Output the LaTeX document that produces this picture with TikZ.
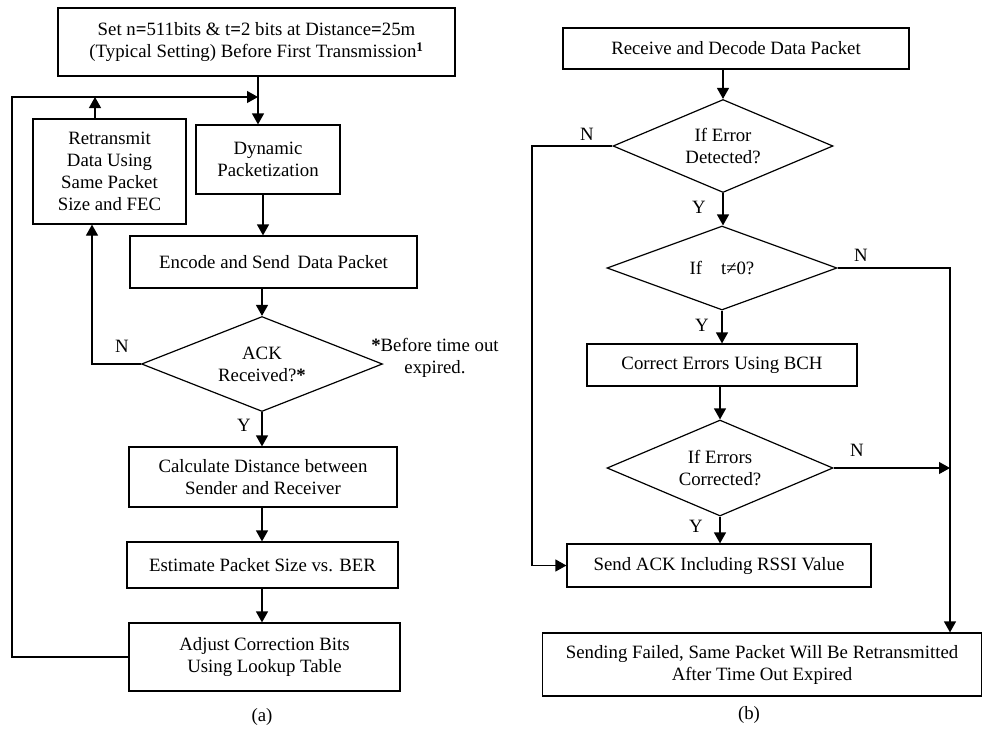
\documentclass[tikz,border=0pt]{standalone}
\usepackage{fontspec}
\setmainfont{Liberation Serif}
\usetikzlibrary{shapes.geometric,arrows.meta}
\begin{document}
\begin{tikzpicture}[x=1pt,y=-1pt,
  font=\fontsize{18.8}{22}\selectfont,
  proc/.style={draw,line width=1.2pt,inner sep=0pt,align=center},
  dec/.style={draw,diamond,aspect=2.4,line width=1.2pt,inner sep=0pt,align=center},
  arr/.style={-{Triangle[length=11pt,width=12pt]},line width=1.2pt},
  lbl/.style={inner sep=0pt,align=center}]
\useasboundingbox (0,0) rectangle (983,729);
% ---------- (a) ----------
\node[proc,minimum width=397pt,minimum height=68pt] (b1) at (256.5,42)
  {Set n\textbf{=}511bits \& t\textbf{=}2 bits at Distance\textbf{=}25m\\(Typical Setting) Before First Transmission\textsuperscript{\textbf{1}}};
\node[proc,minimum width=153pt,minimum height=105pt] (ret) at (109.5,171.5)
  {Retransmit\\Data Using\\Same Packet\\Size and FEC};
\node[proc,minimum width=144pt,minimum height=69pt] (dyn) at (268,159.5)
  {Dynamic\\Packetization};
\node[proc,minimum width=287pt,minimum height=52pt] (enc) at (273.5,262)
  {Encode and Send\, Data Packet};
\node[dec,minimum width=241pt,minimum height=95pt] (ack) at (262,364)
  {ACK\\Received?\textbf{*}};
\node[proc,minimum width=268pt,minimum height=60pt] (calc) at (263,477)
  {Calculate Distance between\\Sender and Receiver};
\node[proc,minimum width=271pt,minimum height=46pt] (est) at (262.5,565)
  {Estimate Packet Size vs. BER};
\node[proc,minimum width=271pt,minimum height=68pt] (adj) at (264.5,657)
  {Adjust Correction Bits\\Using Lookup Table};
\node[lbl] (note) at (435,358) {\textbf{*}Before time out\\expired.};
\node[lbl] (na) at (122,346) {N};
\node[lbl] (ya) at (244,425) {Y};
\node[lbl] (capa) at (262,717) {(a)};

\coordinate (fbL) at (12,97);
\coordinate (fbR) at (258,97);
\coordinate (retUp) at (95,97);
\coordinate (nA) at (92,364);
\coordinate (dynB) at (263,194);

\draw[arr] (b1.south -| fbR) -- (fbR |- dyn.north);
\draw[arr] (adj.west) -| (fbL) -- (fbR);
\draw[arr] (ret.north -| retUp) -- (retUp);
\draw[arr] (dyn.south -| dynB) -- (dynB |- enc.north);
\draw[arr] (enc.south -| ack.north) -- (ack.north);
\draw[arr] (ack.west) -- (nA) -- (nA |- ret.south);
\draw[arr] (ack.south) -- (ack.south |- calc.north);
\draw[arr] (calc.south -| ack.south) -- (ack.south |- est.north);
\draw[arr] (est.south -| ack.south) -- (ack.south |- adj.north);

% ---------- (b) ----------
\node[proc,minimum width=346pt,minimum height=41pt] (recv) at (736,48.5)
  {Receive and Decode Data Packet};
\node[dec,minimum width=220pt,minimum height=93pt] (d1) at (723,146)
  {If Error\\Detected?};
\node[dec,minimum width=230pt,minimum height=84pt] (d2) at (722,268)
  {If\quad t≠0?};
\node[proc,minimum width=270pt,minimum height=42pt] (corr) at (722,365)
  {Correct Errors Using BCH};
\node[dec,minimum width=226pt,minimum height=96pt] (d3) at (720,468)
  {If Errors\\Corrected?};
\node[proc,minimum width=304pt,minimum height=43pt] (sack) at (719,565.5)
  {Send ACK Including RSSI Value};
\node[proc,minimum width=439pt,minimum height=63pt] (fail) at (762,664.5)
  {Sending Failed, Same Packet Will Be Retransmitted\\After Time Out Expired};
\node[lbl] (n1) at (587,134) {N};
\node[lbl] (y1) at (699,207) {Y};
\node[lbl] (n2) at (861,255) {N};
\node[lbl] (y2) at (702,325) {Y};
\node[lbl] (n3) at (857,450) {N};
\node[lbl] (y3) at (696,526) {Y};
\node[lbl] (capb) at (749,715) {(b)};

\coordinate (l1) at (532,146);
\coordinate (r1) at (950,268);

\draw[arr] (recv.south -| d1.north) -- (d1.north);
\draw[arr] (d1.west) -- (l1) -- (l1 |- sack.west) -- (sack.west);
\draw[arr] (d1.south) -- (d1.south |- d2.north);
\draw[arr] (d2.east) -- (r1) -- (r1 |- fail.north);
\draw[arr] (d2.south) -- (d2.south |- corr.north);
\draw[arr] (corr.south -| d3.north) -- (d3.north);
\draw[arr] (d3.east) -- (d3.east -| r1);
\draw[arr] (d3.south) -- (d3.south |- sack.north);
\end{tikzpicture}
\end{document}
